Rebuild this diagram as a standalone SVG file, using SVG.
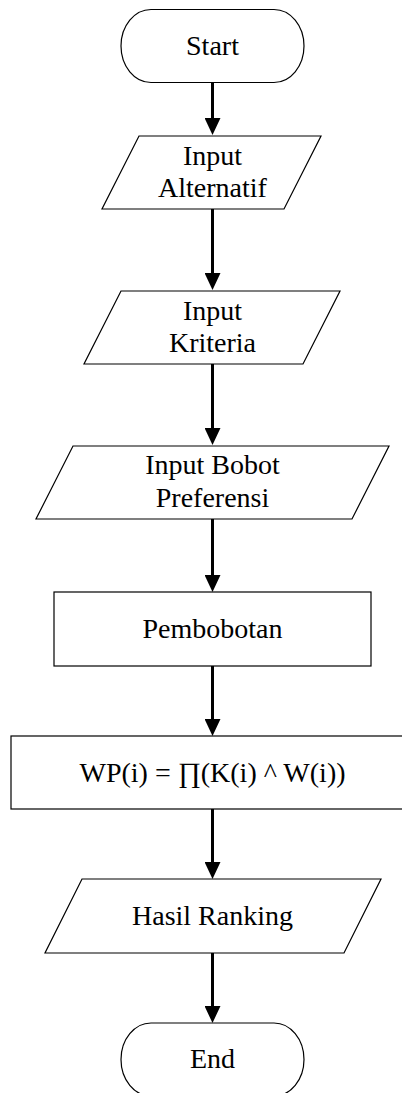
<svg xmlns="http://www.w3.org/2000/svg" width="402" height="1093" viewBox="0 0 402 1093">
  <style>
    .shape { fill: #ffffff; stroke: #000000; stroke-width: 1.2; }
    .label { font-family: "Liberation Serif", "Times New Roman", serif; font-size: 28px; fill: #000000; text-anchor: middle; }
    .flow { stroke: #000000; stroke-width: 3; fill: none; marker-end: url(#head); }
  </style>
  <defs>
    <marker id="head" markerUnits="userSpaceOnUse" markerWidth="17" markerHeight="16" refX="0" refY="8" orient="auto">
      <path d="M0,0 L17,8 L0,16 z" fill="#000000"/>
    </marker>
  </defs>
  <rect width="402" height="1093" fill="#ffffff"/>

  <!-- flow arrows between steps -->
  <g id="connectors">
    <line class="flow" x1="212.5" y1="83" x2="212.5" y2="118"/>
    <line class="flow" x1="212.5" y1="209" x2="212.5" y2="273"/>
    <line class="flow" x1="212.5" y1="364" x2="212.5" y2="428"/>
    <line class="flow" x1="212.5" y1="519" x2="212.5" y2="575"/>
    <line class="flow" x1="212.5" y1="666" x2="212.5" y2="719"/>
    <line class="flow" x1="212.5" y1="809" x2="212.5" y2="862"/>
    <line class="flow" x1="212.5" y1="953" x2="212.5" y2="1006"/>
  </g>

  <g id="start">
    <rect class="shape" x="121" y="9.5" width="183" height="73" rx="30" ry="36.5"/>
    <text class="label" x="212.5" y="55">Start</text>
  </g>

  <g id="input-alternatif">
    <polygon class="shape" points="139,136 321,136 284,209 102,209"/>
    <text class="label" x="212.5" y="165">Input</text>
    <text class="label" x="212.5" y="197">Alternatif</text>
  </g>

  <g id="input-kriteria">
    <polygon class="shape" points="121,291 340,291 303,364 84,364"/>
    <text class="label" x="212.5" y="320">Input</text>
    <text class="label" x="212.5" y="352">Kriteria</text>
  </g>

  <g id="input-bobot">
    <polygon class="shape" points="73,446 389,446 352,519 36,519"/>
    <text class="label" x="212.5" y="474">Input Bobot</text>
    <text class="label" x="212.5" y="507">Preferensi</text>
  </g>

  <g id="pembobotan">
    <rect class="shape" x="54" y="592" width="317" height="74"/>
    <text class="label" x="212.5" y="638">Pembobotan</text>
  </g>

  <g id="wp-formula">
    <rect class="shape" x="11" y="736" width="404" height="73"/>
    <text class="label" x="212.5" y="782">WP(i) = ∏(K(i) ^ W(i))</text>
  </g>

  <g id="hasil-ranking">
    <polygon class="shape" points="82,879 381,879 344,953 45,953"/>
    <text class="label" x="212.5" y="925">Hasil Ranking</text>
  </g>

  <g id="end">
    <rect class="shape" x="121" y="1023" width="183" height="73" rx="30" ry="36.5"/>
    <text class="label" x="212.5" y="1068">End</text>
  </g>
</svg>
